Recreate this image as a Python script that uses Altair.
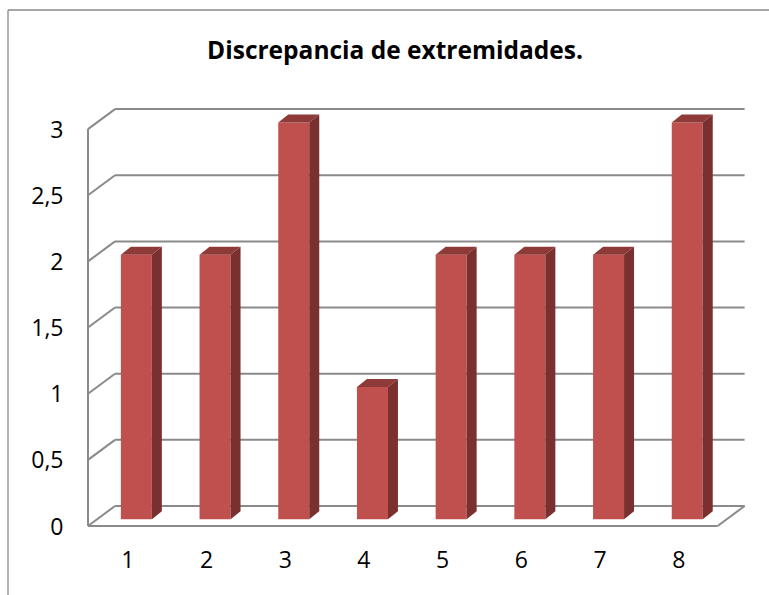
import altair as alt
import pandas as pd

# ---- data ----
categories = [1, 2, 3, 4, 5, 6, 7, 8]
values = [2, 2, 3, 1, 2, 2, 2, 3]
y_ticks = [0, 0.5, 1, 1.5, 2, 2.5, 3]
title_text = "Discrepancia de extremidades."

# ---- geometry (pixels per data unit, pseudo-3D offsets) ----
PX_X = 78.7
PX_Y = 132.3
W, H = 681, 430
X0 = 0.5
XN = X0 + len(categories)
xs = alt.Scale(domain=[X0, X0 + W / PX_X], nice=False, zero=False)
ys = alt.Scale(domain=[0, H / PX_Y], nice=False, zero=False)

BACK_DX, BACK_DY = 27 / PX_X, 20 / PX_Y     # back wall relative to front plane
BAR_DX, BAR_DY = 9 / PX_X, 6.7 / PX_Y       # bar front plane relative to front plane
HALF = 15.5 / PX_X                          # half bar width
DEP_DX, DEP_DY = 10 / PX_X, 8 / PX_Y        # bar depth

GRID = "#8a8a8a"
FRONT = "#C0504D"
TOP = "#8E3A38"
SIDE = "#7A302F"
FONT = "Open Sans"

xa = alt.Axis(values=categories, format="d", domain=False, ticks=False, grid=False,
              labelFont=FONT, labelFontSize=23, labelColor="black",
              labelPadding=41, labelBaseline="alphabetic")
ya = alt.Axis(values=y_ticks, domain=False, ticks=False, grid=False,
              labelExpr="replace(format(datum.value, '~g'), '.', ',')",
              labelFont=FONT, labelFontSize=23, labelColor="black",
              labelPadding=25, labelOffset=1)

# ---- wall / floor lines ----
seg = []
for v in y_ticks:
    seg.append(dict(x=X0 + BACK_DX, y=v + BACK_DY, x2=XN + BACK_DX, y2=v + BACK_DY))
    seg.append(dict(x=X0, y=v, x2=X0 + BACK_DX, y2=v + BACK_DY))
seg.append(dict(x=X0, y=0, x2=X0, y2=max(y_ticks)))
seg.append(dict(x=X0, y=0, x2=XN, y2=0))
seg.append(dict(x=XN, y=0, x2=XN + BACK_DX, y2=BACK_DY))
seg_df = pd.DataFrame(seg)

# ---- bars ----
front_rows, top_rows, side_rows = [], [], []
for c, v in zip(categories, values):
    x1 = c + BAR_DX - HALF
    x2 = c + BAR_DX + HALF
    y1 = BAR_DY
    y2 = v + BAR_DY
    front_rows.append(dict(cat=c, x1=x1, x2=x2, y1=y1, y2=y2))
    top_rows += [
        dict(cat=c, x=x1, lo=y2, hi=y2),
        dict(cat=c, x=x1 + DEP_DX, lo=y2, hi=y2 + DEP_DY),
        dict(cat=c, x=x2, lo=y2, hi=y2 + DEP_DY),
        dict(cat=c, x=x2 + DEP_DX, lo=y2 + DEP_DY, hi=y2 + DEP_DY),
    ]
    side_rows += [
        dict(cat=c, x=x2, lo=y1, hi=y2),
        dict(cat=c, x=x2 + DEP_DX, lo=y1 + DEP_DY, hi=y2 + DEP_DY),
    ]
front_df = pd.DataFrame(front_rows)
top_df = pd.DataFrame(top_rows)
side_df = pd.DataFrame(side_rows)

lines = alt.Chart(seg_df).mark_rule(color=GRID, strokeWidth=2).encode(
    x=alt.X("x:Q", scale=xs, axis=xa, title=None),
    y=alt.Y("y:Q", scale=ys, axis=ya, title=None),
    x2="x2:Q",
    y2="y2:Q",
)

front = alt.Chart(front_df).mark_rect(color=FRONT).encode(
    x=alt.X("x1:Q", scale=xs, axis=xa, title=None),
    x2="x2:Q",
    y=alt.Y("y1:Q", scale=ys, axis=ya, title=None),
    y2="y2:Q",
)

top = alt.Chart(top_df).mark_area(color=TOP, orient="vertical").encode(
    x=alt.X("x:Q", scale=xs, axis=xa, title=None),
    y=alt.Y("lo:Q", scale=ys, axis=ya, title=None, stack=None),
    y2="hi:Q",
    detail="cat:N",
)

side = alt.Chart(side_df).mark_area(color=SIDE, orient="vertical").encode(
    x=alt.X("x:Q", scale=xs, axis=xa, title=None),
    y=alt.Y("lo:Q", scale=ys, axis=ya, title=None, stack=None),
    y2="hi:Q",
    detail="cat:N",
)

one = pd.DataFrame({"a": [0]})
frame_left = alt.Chart(one).mark_rule(color="#898989", strokeWidth=1.3).encode(
    x=alt.value(-80), y=alt.value(-86), y2=alt.value(520))
frame_top = alt.Chart(one).mark_rule(color="#898989", strokeWidth=1.3).encode(
    x=alt.value(-80), x2=alt.value(700), y=alt.value(-86))
title = alt.Chart(one).mark_text(
    text=title_text, font=FONT, fontSize=24.5, fontWeight="bold", color="black",
    align="center", baseline="alphabetic").encode(x=alt.value(307), y=alt.value(-37))

chart = alt.layer(frame_left, frame_top, lines, front, top, side, title).properties(
    width=W,
    height=H,
    padding={"left": 88, "top": 96, "right": 0, "bottom": 69},
    autosize=alt.AutoSizeParams(type="none"),
    background="white",
).configure_view(stroke=None)

chart.save("out.html", embed_options={"renderer": "svg", "actions": False})
